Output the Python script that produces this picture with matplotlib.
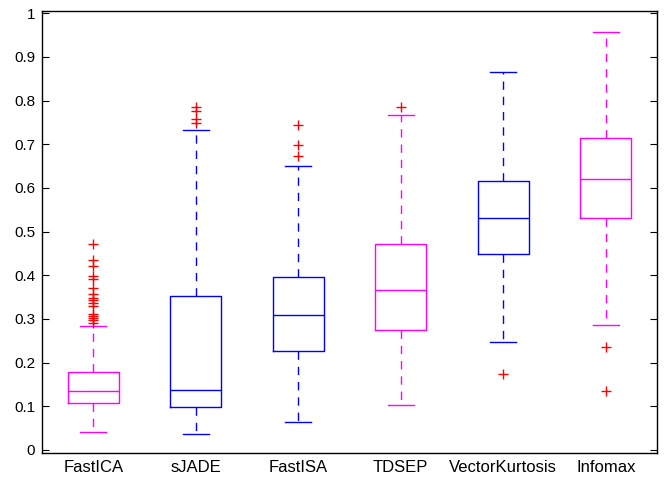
import matplotlib
matplotlib.use("Agg")
import matplotlib.pyplot as plt
from matplotlib.ticker import FuncFormatter

categories = ["FastICA", "sJADE", "FastISA", "TDSEP", "VectorKurtosis", "Infomax"]
whislo = [0.040, 0.037, 0.063, 0.103, 0.248, 0.287]
q1 = [0.107, 0.099, 0.226, 0.274, 0.448, 0.532]
med = [0.134, 0.137, 0.309, 0.367, 0.530, 0.621]
q3 = [0.178, 0.352, 0.396, 0.472, 0.615, 0.714]
whishi = [0.284, 0.733, 0.649, 0.766, 0.865, 0.957]
fliers = [
    [0.472, 0.436, 0.421, 0.398, 0.392, 0.370, 0.357, 0.349, 0.343, 0.336,
     0.330, 0.312, 0.307, 0.302, 0.297, 0.291],
    [0.786, 0.777, 0.758, 0.749],
    [0.743, 0.699, 0.672],
    [0.785],
    [0.173],
    [0.236, 0.136],
]
colors = ["#FF00FF", "#0000FF", "#0000FF", "#FF00FF", "#0000FF", "#FF00FF"]
yticks = [0, 0.1, 0.2, 0.3, 0.4, 0.5, 0.6, 0.7, 0.8, 0.9, 1]

plt.rcParams["font.family"] = ["Liberation Sans", "DejaVu Sans"]
fig = plt.figure(figsize=(6.69, 4.78), dpi=100)
ax = fig.add_axes([42 / 669, 25 / 478, 615 / 669, 442 / 478])

for i, name in enumerate(categories):
    st = dict(label=name, whislo=whislo[i], q1=q1[i], med=med[i], q3=q3[i],
              whishi=whishi[i], fliers=fliers[i])
    c = colors[i]
    ax.bxp([st], positions=[i + 1], widths=0.5, showfliers=True,
           boxprops=dict(color=c, linewidth=1.0),
           medianprops=dict(color=c, linewidth=1.0),
           whiskerprops=dict(color=c, linewidth=1.0, linestyle=(0, (6, 5))),
           capprops=dict(color=c, linewidth=1.0),
           capwidths=0.25,
           flierprops=dict(marker="+", markeredgecolor="red", markersize=7,
                           linestyle="none", markeredgewidth=1.0))

ax.set_xlim(0.5, 6.5)
ax.set_ylim(-0.007, 1.005)
ax.set_xticks(range(1, 7))
ax.set_xticklabels(categories)
ax.set_yticks(yticks)
ax.yaxis.set_major_formatter(FuncFormatter(lambda v, p: "%g" % v))
ax.tick_params(axis="y", direction="in", length=5, right=True, labelsize=11, pad=5)
ax.tick_params(axis="x", length=0, labelsize=12, pad=5)
for s in ax.spines.values():
    s.set_linewidth(1.0)

fig.savefig("out.png", dpi=100)
